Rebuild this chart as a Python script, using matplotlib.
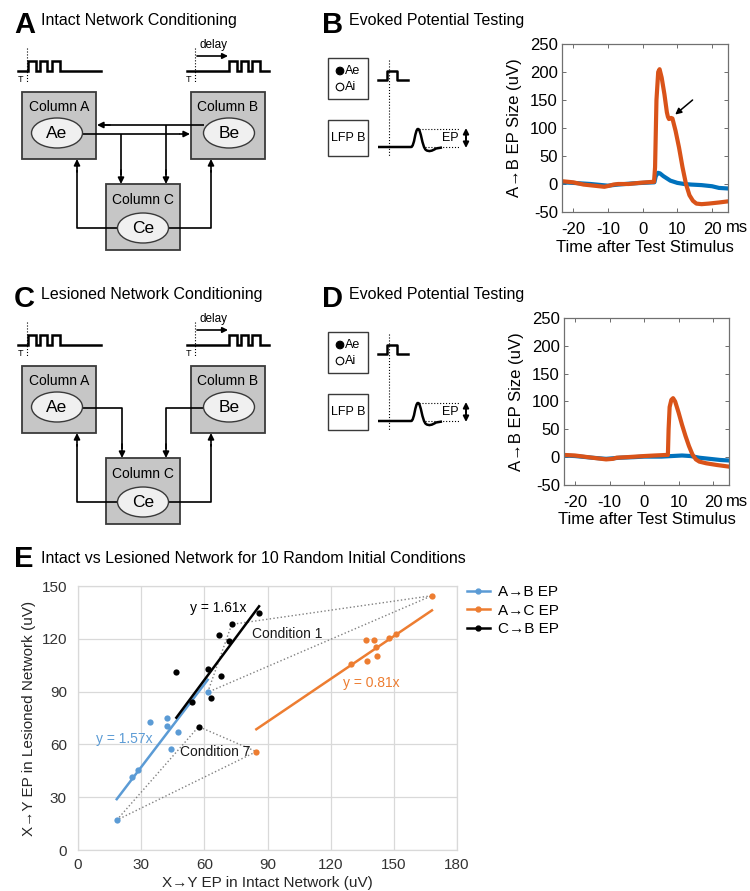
import numpy as np
import matplotlib
matplotlib.use('Agg')
import matplotlib.pyplot as plt
from matplotlib.patches import Rectangle, Ellipse, Circle, PathPatch
from matplotlib.path import Path
from matplotlib.lines import Line2D

plt.rcParams['font.family'] = ['Liberation Sans', 'DejaVu Sans']
plt.rcParams['axes.unicode_minus'] = False

# ---------------- data ----------------
# Panel B: A->B evoked potential (intact network)
b_time_red = [-23.2, -20, -17, -14, -11, -9.5, -8.4, -7, -4, -1, 1, 3.3, 3.6, 4.0, 4.5, 4.9,
              5.5, 6.3, 7.0, 7.3, 7.6, 8.2, 8.6, 9.5, 10.5, 11.5, 12.5, 13.5, 14.5, 15.5,
              17, 19, 22, 24.6]
b_red = [5, 3, -1, -3, -5, -3, -1, 0, 0, 2, 3, 4, 30, 150, 200, 205,
         190, 160, 128, 120, 116, 118, 117, 95, 65, 30, 0, -20, -30, -35,
         -36, -35, -33, -31]
b_time_blue = [-23.2, -20, -15, -10, -7, -3, 0, 3.4, 3.8, 4.4, 5.0, 6, 7, 8, 10, 12, 14, 17,
               20, 22, 24.6]
b_blue = [3, 2, 0, -3, -1, 1, 2, 3, 14, 20, 19, 14, 10, 6, 2, 0, -1, -2, -4, -7, -8]

# Panel D: A->B evoked potential (lesioned network)
d_time_red = [-23.2, -20, -15, -11, -9, -8, -5, 0, 3, 6.5, 6.9, 7.1, 7.4, 7.9, 8.4, 9.0,
              10, 11, 12, 13, 14, 15, 16, 18, 21, 24.6]
d_red = [4, 3, -1, -4, -3, -1, 0, 2, 3, 4, 4, 50, 90, 103, 106, 100,
         80, 58, 38, 20, 5, -4, -8, -11, -14, -17]
d_time_blue = [-23.2, -20, -15, -11, -7, -3, 0, 5, 8, 11, 13.5, 16, 19, 22, 24.6]
d_blue = [3, 2, -1, -3, -1, 0, 1, 1, 2, 3, 2, -1, -3, -5, -6]

ep_ticks = [-50, 0, 50, 100, 150, 200, 250]
time_ticks = [-20, -10, 0, 10, 20]

# Panel E: intact vs lesioned EP sizes (uV)
ab_intact = [18.4, 25.6, 28.3, 34.0, 42.3, 42.3, 47.3, 44.3, 61.6]
ab_lesion = [17.0, 41.5, 45.3, 72.5, 74.8, 70.6, 67.2, 57.2, 89.6]
ac_intact = [168.1, 84.7, 129.8, 136.8, 140.7, 147.9, 151.0, 141.5, 137.4, 142.0]
ac_lesion = [144.5, 55.9, 105.9, 119.3, 119.3, 120.6, 122.7, 115.2, 107.4, 110.2]
cb_intact = [86.0, 73.0, 67.1, 71.9, 46.7, 61.6, 67.8, 63.0, 54.1, 57.3]
cb_lesion = [134.8, 128.2, 122.2, 118.9, 101.1, 103.0, 98.7, 86.2, 84.3, 70.1]
slope_ab, slope_ac, slope_cb = 1.57, 0.81, 1.61
# indices (ab, cb, ac) of highlighted conditions
cond1 = (8, 1, 0)
cond7 = (0, 9, 1)
e_xticks = [0, 30, 60, 90, 120, 150, 180]
e_yticks = [0, 30, 60, 90, 120, 150]
series_labels = ['A→B EP', 'A→C EP', 'C→B EP']

C_BLUE_M, C_RED_M = '#0072BD', '#D95319'
C_BLUE_E, C_ORANGE_E = '#5B9BD5', '#ED7D31'

# ---------------- figure ----------------
W, H = 750, 891
fig = plt.figure(figsize=(7.5, 8.91), dpi=100)
bg = fig.add_axes([0, 0, 1, 1])
bg.set_xlim(0, W)
bg.set_ylim(H, 0)
bg.axis('off')

LW = 1.2


def line(xs, ys, lw=LW, ls='-', color='k'):
    bg.plot(xs, ys, color=color, lw=lw, ls=ls, solid_capstyle='butt')


def arrow(x0, y0, x1, y1, style='-|>', lw=LW, ms=9):
    bg.annotate('', xy=(x1, y1), xytext=(x0, y0),
                arrowprops=dict(arrowstyle=style, color='k', lw=lw, shrinkA=0,
                                shrinkB=0, mutation_scale=ms))


def pulse_train(x0, x1, yb, yh, edges):
    xs, ys = [x0], [yb]
    for a, b in edges:
        xs += [a, a, b, b]
        ys += [yb, yh, yh, yb]
    xs.append(x1)
    ys.append(yb)
    bg.plot(xs, ys, color='k', lw=1.8, solid_joinstyle='miter')


def panel_title(x, yb, letter, title, dy_title=-7.5):
    bg.text(x, yb, letter, fontsize=21, fontweight='bold', va='baseline', ha='left')
    bg.text(x + 27, yb + dy_title, title, fontsize=11.5, va='baseline', ha='left')


def network(dy, intact):
    # stimulus trains
    pulse_train(18, 101, 71 + dy, 61 + dy, [(28, 35.5), (40, 47), (51.5, 60)])
    line([27, 27], [48 + dy, 82 + dy], lw=0.8, ls=':')
    bg.text(20, 80 + dy, 'T', fontsize=6.5, ha='center', va='center')
    pulse_train(187, 269, 71 + dy, 61 + dy, [(229, 236.5), (241, 248), (252, 260)])
    line([195, 195], [48 + dy, 82 + dy], lw=0.8, ls=':')
    bg.text(189, 80 + dy, 'T', fontsize=6.5, ha='center', va='center')
    arrow(197, 56 + dy, 228, 56 + dy, ms=8)
    bg.text(199, 45 + dy, 'delay', fontsize=8.5, va='center')
    # columns
    cols = [((22, 92, 96, 159), 'Column A', 107, (57, 133), 'Ae'),
            ((191, 92, 265, 159), 'Column B', 107, (229, 133), 'Be'),
            ((106, 184, 180, 250), 'Column C', 200, (143, 228), 'Ce')]
    for (x0, y0, x1, y1), lab, ly, (ex, ey), el in cols:
        bg.add_patch(Rectangle((x0, y0 + dy), x1 - x0, y1 - y0, fc='#c6c6c6',
                               ec='#3a3a3a', lw=1.3, zorder=1))
        bg.text((x0 + x1) / 2, ly + dy, lab, fontsize=10, ha='center', va='center', zorder=4)
        bg.add_patch(Ellipse((ex, ey + dy), 51, 30, fc='#f0f0f0', ec='#3a3a3a', lw=1.0, zorder=3))
        bg.text(ex, ey + dy + 0.5, el, fontsize=12.5, ha='center', va='center', zorder=4)
    if intact:
        line([204, 100], [125 + dy, 125 + dy])
        arrow(110, 125 + dy, 97, 125 + dy)
        line([83, 180], [134 + dy, 134 + dy])
        arrow(180, 134 + dy, 190, 134 + dy)
        line([121, 121], [134 + dy, 175 + dy])
        arrow(121, 170 + dy, 121, 184 + dy)
        line([166, 166], [125 + dy, 175 + dy])
        arrow(166, 170 + dy, 166, 184 + dy)
    else:
        line([83, 122, 122], [134 + dy, 134 + dy, 175 + dy])
        arrow(122, 170 + dy, 122, 184 + dy)
        line([204, 166, 166], [134 + dy, 134 + dy, 175 + dy])
        arrow(166, 170 + dy, 166, 184 + dy)
    line([118, 77, 77], [228 + dy, 228 + dy, 170 + dy])
    arrow(77, 172 + dy, 77, 159 + dy)
    line([168, 211, 211], [228 + dy, 228 + dy, 170 + dy])
    arrow(211, 172 + dy, 211, 159 + dy)


def ep_diagram(dy):
    bg.add_patch(Rectangle((328, 58 + dy), 40, 41, fc='white', ec='#3a3a3a', lw=1.0))
    bg.add_patch(Circle((340, 71 + dy), 3.8, fc='k', ec='k', lw=0.8))
    bg.add_patch(Circle((340, 87 + dy), 3.8, fc='white', ec='k', lw=0.8))
    bg.text(345, 71 + dy, 'Ae', fontsize=9, va='center')
    bg.text(345, 87 + dy, 'Ai', fontsize=9, va='center')
    bg.plot([378, 387, 387, 397, 397, 408], [80 + dy, 80 + dy, 71 + dy, 71 + dy, 80 + dy, 80 + dy],
            color='k', lw=1.8)
    line([389, 389], [60 + dy, 157 + dy], lw=0.8, ls=':')
    bg.add_patch(Rectangle((328, 120 + dy), 40, 36, fc='white', ec='#3a3a3a', lw=1.0))
    bg.text(348, 138 + dy, 'LFP B', fontsize=9, ha='center', va='center')
    verts = [(378, 147), (411, 147),
             (414.5, 147), (415, 129), (418, 129),
             (421, 129), (422, 147), (426, 150),
             (429, 152), (432, 151), (436, 148.5),
             (442, 147.5)]
    codes = [Path.MOVETO, Path.LINETO,
             Path.CURVE4, Path.CURVE4, Path.CURVE4,
             Path.CURVE4, Path.CURVE4, Path.CURVE4,
             Path.CURVE4, Path.CURVE4, Path.CURVE4,
             Path.LINETO]
    verts = [(x, y + dy) for x, y in verts]
    bg.add_patch(PathPatch(Path(verts, codes), fc='none', ec='k', lw=1.8))
    line([419, 460], [129 + dy, 129 + dy], lw=0.8, ls=':')
    line([425, 460], [147 + dy, 147 + dy], lw=0.8, ls=':')
    bg.text(442, 138 + dy, 'EP', fontsize=9, va='center')
    arrow(466, 138 + dy, 466, 128 + dy, ms=8, lw=1.4)
    arrow(466, 138 + dy, 466, 148 + dy, ms=8, lw=1.4)


def ep_plot(rect, tr, vr, tb, vb, ms_y):
    ax = fig.add_axes(rect)
    ax.plot(tb, vb, color=C_BLUE_M, lw=3.0, solid_joinstyle='round')
    ax.plot(tr, vr, color=C_RED_M, lw=3.0, solid_joinstyle='round')
    ax.set_xlim(-23.2, 24.6)
    ax.set_ylim(-50, 250)
    ax.set_xticks(time_ticks)
    ax.set_yticks(ep_ticks)
    ax.tick_params(direction='in', top=True, right=True, length=3, width=0.6,
                   labelsize=12, color='#555555', pad=3)
    ax.tick_params(axis='x', pad=7)
    for s in ax.spines.values():
        s.set_color('#707070')
        s.set_linewidth(0.9)
    ax.set_xlabel('Time after Test Stimulus', fontsize=12, labelpad=2)
    ax.set_ylabel('A→B EP Size (uV)', fontsize=12, labelpad=6)
    bg.text(726, ms_y, 'ms', fontsize=12, va='center', ha='left')
    return ax


# Panels A-D
panel_title(14, 33, 'A', 'Intact Network Conditioning')
panel_title(322, 33, 'B', 'Evoked Potential Testing')
panel_title(14, 307, 'C', 'Lesioned Network Conditioning')
panel_title(322, 307, 'D', 'Evoked Potential Testing')
panel_title(14, 567, 'E', 'Intact vs Lesioned Network for 10 Random Initial Conditions', dy_title=-4)

network(0, True)
network(274, False)
ep_diagram(0)
ep_diagram(274)

axB = ep_plot([562 / W, 1 - 212 / H, 166 / W, 168 / H], b_time_red, b_red, b_time_blue, b_blue, 228)
axB.annotate('', xy=(9.4, 124), xytext=(14.4, 150),
             arrowprops=dict(arrowstyle='-|>', color='k', lw=1.1, mutation_scale=9,
                             shrinkA=0, shrinkB=0))
axD = ep_plot([564 / W, 1 - 485 / H, 165 / W, 167 / H], d_time_red, d_red, d_time_blue, d_blue, 501)

# Panel E
axE = fig.add_axes([78 / W, 1 - 850 / H, 379 / W, 264 / H])
axE.set_xlim(0, 180)
axE.set_ylim(0, 150)
axE.set_xticks(e_xticks)
axE.set_yticks(e_yticks)
axE.grid(True, color='#d9d9d9', lw=0.9)
axE.set_axisbelow(True)
for s in axE.spines.values():
    s.set_color('#d9d9d9')
    s.set_linewidth(0.9)
axE.tick_params(length=0, labelsize=11, colors='#333333')
axE.tick_params(axis='x', pad=6)
axE.tick_params(axis='y', pad=8)
axE.set_xlabel('X→Y EP in Intact Network (uV)', fontsize=11, color='#262626', labelpad=3)
axE.set_ylabel('X→Y EP in Lesioned Network (uV)', fontsize=11, color='#262626', labelpad=4)

for ia, ic, io in (cond1, cond7):
    xs = [ab_intact[ia], cb_intact[ic], ac_intact[io], ab_intact[ia]]
    ys = [ab_lesion[ia], cb_lesion[ic], ac_lesion[io], ab_lesion[ia]]
    axE.plot(xs, ys, color='#808080', ls=':', lw=1.0, zorder=1)

for xs, ys, k, c in ((ab_intact, ab_lesion, slope_ab, C_BLUE_E),
                     (ac_intact, ac_lesion, slope_ac, C_ORANGE_E),
                     (cb_intact, cb_lesion, slope_cb, 'k')):
    xf = np.array([min(xs), max(xs)])
    axE.plot(xf, k * xf, color=c, lw=1.8, zorder=2)
    axE.plot(xs, ys, 'o', color=c, ms=4.5, mec='none', zorder=3)

axE.text(53.2, 137.5, 'y = 1.61x', fontsize=10, va='center', color='k')
axE.text(8.5, 63, 'y = 1.57x', fontsize=10, va='center', color=C_BLUE_E)
axE.text(126, 95, 'y = 0.81x', fontsize=10, va='center', color=C_ORANGE_E)
axE.text(82.6, 123, 'Condition 1', fontsize=10, va='center', color='#1a1a1a')
axE.text(48.4, 55.7, 'Condition 7', fontsize=10, va='center', color='#1a1a1a')

handles = [Line2D([], [], color=c, marker='o', ms=3.5, lw=1.8)
           for c in (C_BLUE_E, C_ORANGE_E, 'k')]
fig.legend(handles, series_labels, loc='upper left', bbox_to_anchor=(467 / W, 1 - 585 / H),
           frameon=False, fontsize=11, handlelength=1.5, handletextpad=0.5,
           labelspacing=0.3, borderaxespad=0, borderpad=0)

fig.savefig('out.png', dpi=100)
